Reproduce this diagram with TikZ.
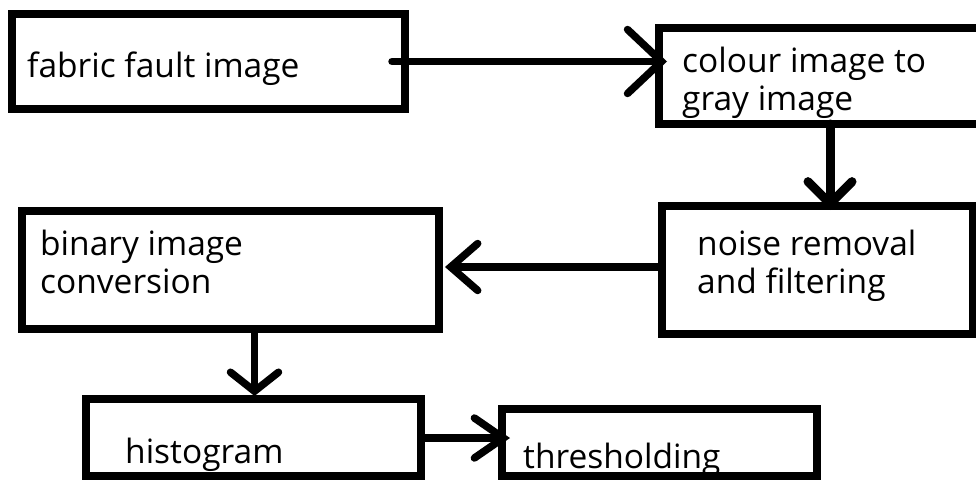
\documentclass[tikz,border=0pt]{standalone}
\usepackage{fontspec}
\setmainfont{Open Sans}
\usetikzlibrary{arrows.meta,calc}
\begin{document}
\begin{tikzpicture}[x=1pt,y=-1pt,
  box/.style={draw=black,line width=8pt,rectangle,inner sep=0pt,outer sep=0pt,fill=white},
  lbl/.style={anchor=base west,inner sep=0pt,align=left,font=\fontsize{33.5}{38}\selectfont},
  conn/.style={draw=black,line width=7.5pt,line cap=round}
]
\useasboundingbox[fill=white] (0,0) rectangle (976,479);
% boxes
\node[box,minimum width=393pt,minimum height=95pt] (b1) at (208.5,61.5) {};
\node[box,minimum width=335pt,minimum height=96.5pt] (b2) at (826.5,75.75) {};
\node[box,minimum width=311pt,minimum height=128pt] (b3) at (817.5,270) {};
\node[box,minimum width=417pt,minimum height=118pt] (b4) at (230.5,270) {};
\node[box,minimum width=335pt,minimum height=77pt] (b5) at (253.5,437.5) {};
\node[box,minimum width=315pt,minimum height=67pt] (b6) at (659.5,442.5) {};
% texts (multi-line nodes are placed at the baseline of their last line)
\node[lbl] (t1) at (27,77) {fabric fault image};
\node[lbl] (t2) at (682,110) {colour image to\\gray image};
\node[lbl] (t3) at (697,293) {noise removal\\and filtering};
\node[lbl] (t4) at (40,293) {binary image\\conversion};
\node[lbl] (t5) at (125,463) {histogram};
\node[lbl] (t6) at (523,468) {thresholding};
% connectors
\coordinate (a1s) at ($(b1.east)+(-13,0)$);
\coordinate (a1e) at ($(b2.west|-b1.east)+(8,0)$);
\draw[conn,-{Straight Barb[length=34pt,width=64pt,line cap=round]}] (a1s) -- (a1e);
\coordinate (a2s) at ($(b2.south)+(3.5,0)$);
\coordinate (a2e) at ($(a2s|-b3.north)+(0,4)$);
\draw[conn,line width=9pt,-{Straight Barb[length=22pt,width=44pt,line cap=round]}] (a2s) -- (a2e);
\coordinate (a3s) at ($(b3.west)+(0,-3)$);
\coordinate (a3e) at ($(b4.east|-a3s)+(6,0)$);
\draw[conn,-{Straight Barb[length=27pt,width=47pt,line cap=round]}] (a3s) -- (a3e);
\coordinate (a4s) at ($(b4.south)+(24,0)$);
\coordinate (a4e) at ($(a4s|-b5.north)+(0,-3)$);
\draw[conn,-{Straight Barb[length=19pt,width=48pt,line cap=round]}] (a4s) -- (a4e);
\coordinate (a5s) at (b5.east|-0,438);
\coordinate (a5e) at ($(b6.west|-a5s)+(8,0)$);
\draw[conn,-{Straight Barb[length=29pt,width=40pt,line cap=round]}] (a5s) -- (a5e);
\end{tikzpicture}
\end{document}
